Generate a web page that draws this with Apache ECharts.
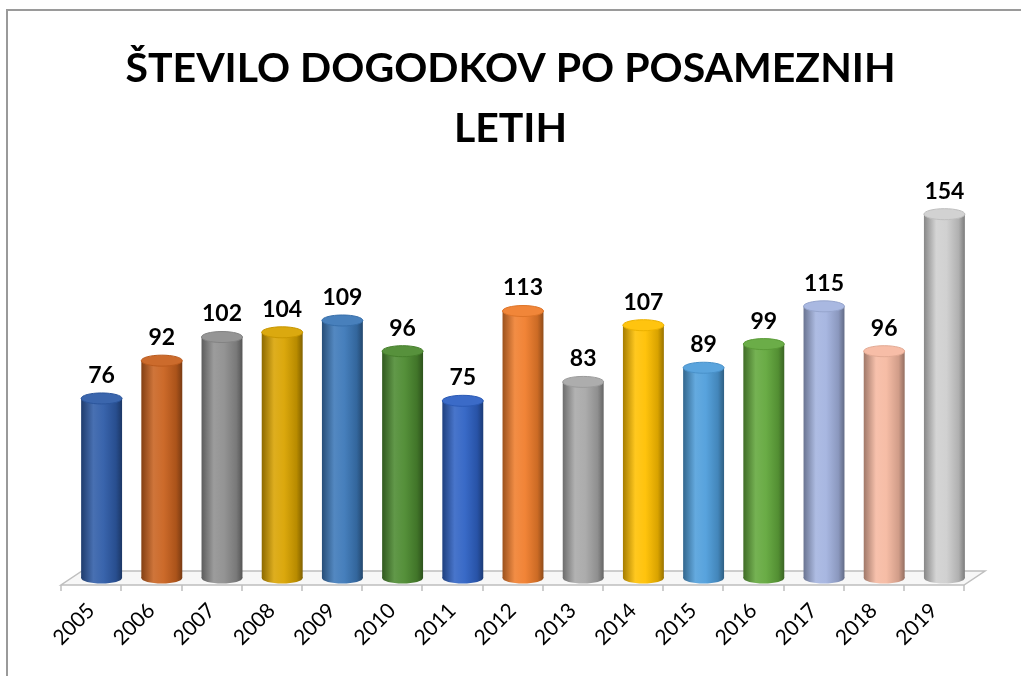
<!DOCTYPE html>
<html>
<head>
<meta charset="utf-8">
<script src="https://cdn.jsdelivr.net/npm/echarts@6/dist/echarts.min.js"></script>
<style>
  html, body { margin: 0; padding: 0; background: #fff; }
  #chart { width: 1021px; height: 676px; }
</style>
</head>
<body>
<div id="chart"></div>
<script>
// število dogodkov po letih
var years = ['2005', '2006', '2007', '2008', '2009', '2010', '2011', '2012',
             '2013', '2014', '2015', '2016', '2017', '2018', '2019'];
var counts = [76, 92, 102, 104, 109, 96, 75, 113, 83, 107, 89, 99, 115, 96, 154];
var barColors = ['#2F5CA8', '#C9621F', '#8E8E8E', '#D9A300', '#3C78B8', '#4C8A30',
                 '#2F62C4', '#F07E2C', '#A8A8A8', '#FFC000', '#4F9EDB', '#62A83C',
                 '#A3B3DF', '#F6B9A1', '#CFCFCF'];

function shade(hex, f) {
    var n = parseInt(hex.slice(1), 16);
    var c = [(n >> 16) & 255, (n >> 8) & 255, n & 255];
    c = c.map(function (v) {
        return Math.round(f < 0 ? v * (1 + f) : v + (255 - v) * f);
    });
    return 'rgb(' + c.join(',') + ')';
}

function bodyGradient(col) {
    return new echarts.graphic.LinearGradient(0, 0, 1, 0, [
        { offset: 0, color: shade(col, -0.35) },
        { offset: 0.3, color: shade(col, 0.12) },
        { offset: 0.55, color: shade(col, 0.05) },
        { offset: 0.85, color: shade(col, -0.15) },
        { offset: 1, color: shade(col, -0.4) }
    ]);
}

var DEPTH_X = 21, DEPTH_Y = 14;

function renderCylinder(params, api) {
    var i = params.dataIndex;
    var v = api.value(1);
    var col = barColors[i];
    var base = api.coord([i, 0]);
    var top = api.coord([i, v]);
    var band = api.size([1, 0])[0];
    var w = band * 0.68;
    var cx = base[0] + DEPTH_X / 2;
    var by = base[1] - DEPTH_Y / 2;
    var ty = top[1] - DEPTH_Y / 2;
    var rx = w / 2, ry = 5.5;
    return {
        type: 'group',
        children: [
            {
                type: 'ellipse',
                shape: { cx: cx, cy: by, rx: rx, ry: ry },
                style: { fill: bodyGradient(col) }
            },
            {
                type: 'rect',
                shape: { x: cx - rx, y: ty, width: w, height: by - ty },
                style: { fill: bodyGradient(col) }
            },
            {
                type: 'ellipse',
                shape: { cx: cx, cy: ty, rx: rx, ry: ry },
                style: { fill: shade(col, 0.06), stroke: shade(col, -0.08), lineWidth: 1 }
            },
            {
                type: 'text',
                style: {
                    x: cx, y: ty - ry - 6,
                    text: String(v),
                    align: 'center', verticalAlign: 'bottom',
                    fill: '#000',
                    font: 'bold 23px Lato'
                }
            }
        ]
    };
}

function renderFloor(params, api) {
    var cs = params.coordSys;
    var x0 = cs.x, x1 = cs.x + cs.width, y0 = cs.y + cs.height;
    return {
        type: 'polygon',
        shape: {
            points: [[x0, y0], [x1, y0], [x1 + DEPTH_X, y0 - DEPTH_Y], [x0 + DEPTH_X, y0 - DEPTH_Y]]
        },
        style: { fill: '#f7f7f7', stroke: '#bfbfbf', lineWidth: 1.5 },
        z2: -1
    };
}

var option = {
    backgroundColor: '#fff',
    animation: false,
    title: {
        text: 'ŠTEVILO DOGODKOV PO POSAMEZNIH\nLETIH',
        left: 'center',
        top: 34,
        textStyle: {
            fontFamily: 'Lato',
            fontWeight: 'bold',
            fontSize: 41,
            lineHeight: 60,
            color: '#000'
        }
    },
    graphic: [{
        type: 'rect',
        shape: { x: 7, y: 10, width: 1100, height: 800 },
        style: { fill: 'none', stroke: '#9a9a9a', lineWidth: 2 },
        silent: true
    }],
    grid: { left: 61, right: 57, top: 207, bottom: 91 },
    xAxis: {
        type: 'category',
        data: years,
        axisLine: { show: false },
        axisTick: { show: true, length: 6, lineStyle: { color: '#bfbfbf', width: 1.5 } },
        axisLabel: {
            rotate: 45,
            margin: 22,
            fontFamily: 'Lato',
            fontSize: 21,
            color: '#000'
        }
    },
    yAxis: {
        type: 'value',
        min: 0,
        max: 160,
        interval: 20,
        show: false,
        splitLine: { show: false }
    },
    series: [
        {
            type: 'custom',
            renderItem: renderFloor,
            data: [[0, 0]],
            z: 1,
            silent: true
        },
        {
            type: 'custom',
            renderItem: renderCylinder,
            encode: { x: 0, y: 1 },
            data: counts.map(function (c, i) { return [i, c]; }),
            z: 2
        }
    ]
};

var chart = echarts.init(document.getElementById('chart'));
chart.setOption(option);
window.onresize = function () { chart.resize(); };
</script>
</body>
</html>
